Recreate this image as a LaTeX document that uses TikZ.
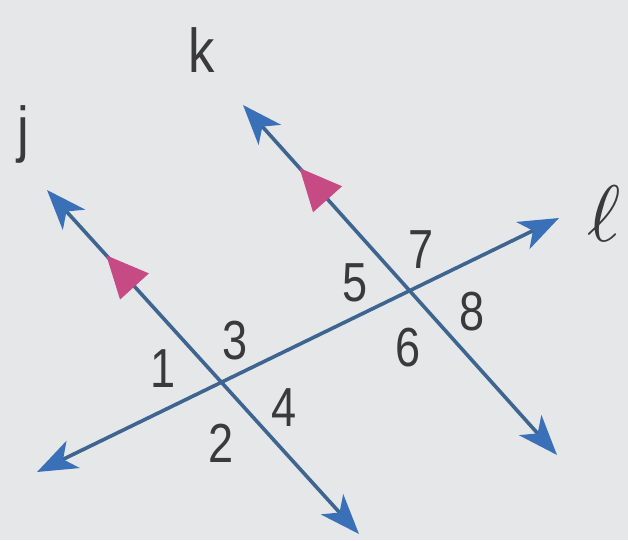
\documentclass[tikz,border=0pt]{standalone}
\usepackage{fontspec}
\setmainfont{Liberation Sans}
\usetikzlibrary{arrows.meta,decorations.markings}
\definecolor{bg}{HTML}{E5E7E9}
\definecolor{lineblue}{HTML}{3D6590}
\definecolor{tipblue}{HTML}{3A70B8}
\definecolor{pinkm}{HTML}{C64A84}
\definecolor{txt}{HTML}{3A3A3C}
\tikzset{
  transversal/.style={line width=3.6pt, draw=lineblue,
    {Stealth[length=40pt,width=30pt,inset=11pt,color=tipblue]}-{Stealth[length=40pt,width=30pt,inset=11pt,color=tipblue]}},
  parmark/.style={postaction={decorate}, decoration={markings,
    mark=at position #1 with {\arrowreversed{Triangle[length=42pt,width=38pt,color=pinkm]}}}},
  num/.style={text=txt, font=\fontsize{55}{58}\selectfont, inner sep=0pt, xscale=0.82},
  lbl/.style={text=txt, font=\fontsize{62}{66}\selectfont, inner sep=0pt, xscale=0.85}
}
\begin{document}
\begin{tikzpicture}[x=1pt,y=-1pt]
\fill[bg] (0,0) rectangle (628,540);
\useasboundingbox (0,0) rectangle (628,540);
\coordinate (j1) at (47,190);
\coordinate (j2) at (359,534);
\coordinate (k1) at (243,105);
\coordinate (k2) at (557,455);
\coordinate (l1) at (37,472);
\coordinate (l2) at (559,218);
\draw[transversal] (l1) -- (l2);
\draw[transversal, parmark=0.19] (j1) -- (j2);
\draw[transversal, parmark=0.18] (k1) -- (k2);
\node[num] (n1) at (163,369) {1};
\node[num] (n3) at (235,341) {3};
\node[num] (n2) at (221,443) {2};
\node[num] (n4) at (284,408) {4};
\node[num] (n5) at (355,283) {5};
\node[num] (n7) at (421,250) {7};
\node[num] (n8) at (472,312) {8};
\node[num] (n6) at (408,348) {6};
\node[lbl, anchor=base] (lj) at (23,150) {j};
\node[lbl, anchor=base] (lk) at (202,73) {k};
\node[text=txt, inner sep=0pt, scale=8] (ll) at (604,214) {$\ell$};
\end{tikzpicture}
\end{document}
